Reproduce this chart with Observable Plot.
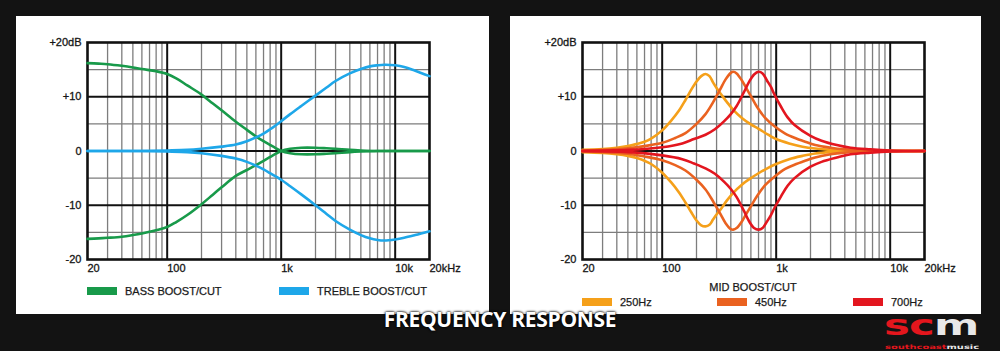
<!DOCTYPE html>
<html>
<head>
<meta charset="utf-8">
<script src="https://cdn.jsdelivr.net/npm/d3@7"></script>
<script src="https://cdn.jsdelivr.net/npm/@observablehq/plot@0.6"></script>
<style>
html, body { margin: 0; padding: 0; background: #131313; width: 1000px; height: 351px; overflow: hidden; }
.panel { position: absolute; top: 16px; height: 298px; background: #fff; }
#left { left: 16px; width: 473px; }
#right { left: 510px; width: 471px; }
.panel svg { position: absolute; left: 0; top: 0; }
.lg { position: absolute; font: 11px "Liberation Sans", Arial, sans-serif; color: #1a1a1a; white-space: nowrap; line-height: 12px; -webkit-text-stroke: 0.25px #1a1a1a; }
.sw { position: absolute; height: 8px; width: 30px; }
#title { position: absolute; left: 0; width: 1000px; top: 309px; text-align: center; font: 700 21px/21px "Open Sans", sans-serif; color: #fff; text-shadow: 0 0 3px #000, 0 0 2px #000; letter-spacing: -0.3px; z-index: 5; }
#logo { position: absolute; left: 884px; top: 312px; width: 97px; height: 39px; }
#logo .big { position: absolute; left: 0; top: 0; font: 700 28px/28px "DejaVu Sans", sans-serif; transform: scaleX(1.55); transform-origin: left top; letter-spacing: -0.5px; white-space: nowrap; }
#logo .small { position: absolute; left: 1px; top: 31.5px; font: 700 6px/6px "DejaVu Sans", sans-serif; white-space: nowrap; transform: scaleX(1.65); transform-origin: left top; }
</style>
</head>
<body>
<div id="left" class="panel"></div>
<div id="right" class="panel"></div>
<div id="title">FREQUENCY RESPONSE</div>
<div id="logo">
  <div class="big"><span style="color:#e4161d">sc</span><span style="color:#e8e8e8">m</span></div>
  <div class="small"><span style="color:#e4161d">southcoast</span><span style="color:#e8e8e8">music</span></div>
</div>
<script>
// ---------- Axis ticks / labels ----------
const xTicks = [20, 100, 1000, 10000, 20000];
const xTickLabels = ["20", "100", "1k", "10k", "20kHz"];
const yTicks = [-20, -10, 0, 10, 20];
const yTickLabels = ["-20", "-10", "0", "+10", "+20dB"];
const majorX = [100, 1000, 10000];
const minorX = [30, 40, 50, 60, 70, 80, 90, 200, 300, 400, 500, 600, 700, 800, 900, 2000, 3000, 4000, 5000, 6000, 7000, 8000, 9000];
const majorY = [-10, 0, 10];
const minorY = [-15, -5, 5, 15];

// ---------- Left chart: bass / treble ----------
const bassFreq = [20, 25, 30, 40, 50, 60, 80, 100, 120, 150, 200, 250, 300, 400, 500, 600, 700, 800, 900, 1000, 1200, 1500, 2000, 2500, 3000, 4000, 5000, 7000, 10000, 20000];
const bassBoost = [16.2, 16.1, 16.0, 15.7, 15.4, 15.1, 14.7, 14.2, 13.4, 12.1, 10.4, 8.8, 7.5, 5.4, 3.9, 2.7, 1.8, 1.1, 0.5, 0.0, -0.4, -0.6, -0.6, -0.5, -0.4, -0.2, -0.1, 0, 0, 0];
const bassCut = [-16.2, -16.1, -16.0, -15.8, -15.5, -15.2, -14.6, -14.0, -13.1, -11.8, -9.8, -8.1, -6.7, -4.6, -3.5, -2.6, -1.8, -1.1, -0.5, 0.0, 0.4, 0.6, 0.6, 0.5, 0.4, 0.2, 0.1, 0, 0, 0];

const trebleFreq = [20, 50, 100, 150, 200, 300, 400, 500, 600, 700, 800, 1000, 1200, 1500, 2000, 2500, 3000, 4000, 5000, 6000, 7000, 8000, 10000, 12000, 15000, 20000];
const trebleBoost = [0, 0, 0.1, 0.2, 0.4, 0.8, 1.2, 1.8, 2.5, 3.2, 4.0, 5.5, 6.8, 8.3, 10.2, 11.7, 12.9, 14.3, 15.1, 15.6, 15.8, 15.9, 15.8, 15.5, 14.8, 13.8];
const trebleCut = [0, 0, -0.1, -0.2, -0.4, -0.9, -1.4, -2.0, -2.7, -3.4, -4.1, -5.3, -6.5, -8.0, -10.0, -11.6, -12.9, -14.5, -15.5, -16.1, -16.4, -16.5, -16.3, -16.0, -15.5, -14.8];

// ---------- Right chart: mid boost/cut ----------
const mid250Freq = [20, 30, 40, 50, 60, 70, 80, 100, 120, 140, 160, 180, 200, 220, 240, 260, 280, 300, 330, 370, 420, 500, 600, 700, 850, 1000, 1300, 1700, 2200, 3000, 5000, 10000, 20000];
const mid250Boost = [0.2, 0.35, 0.6, 0.9, 1.3, 1.7, 2.3, 3.8, 5.6, 7.4, 9.4, 11.3, 12.8, 13.8, 14.2, 13.8, 12.6, 11.6, 10.4, 9.0, 7.6, 6.1, 4.9, 4.1, 3.0, 2.2, 1.4, 0.8, 0.45, 0.2, 0.05, 0, 0];
const mid250Cut = [-0.2, -0.35, -0.6, -0.9, -1.3, -1.8, -2.4, -4.0, -5.8, -7.6, -9.5, -11.3, -12.8, -13.7, -13.9, -13.6, -12.6, -11.7, -10.6, -9.1, -7.7, -6.2, -5.0, -4.1, -3.1, -2.4, -1.5, -0.9, -0.45, -0.2, -0.05, 0, 0];

const mid450Freq = [20, 30, 50, 70, 100, 130, 160, 200, 240, 280, 320, 360, 400, 420, 450, 500, 550, 600, 680, 800, 960, 1200, 1500, 1750, 2200, 3000, 4000, 6000, 10000, 20000];
const mid450Boost = [0.1, 0.2, 0.5, 0.9, 1.5, 2.4, 3.3, 5.0, 6.8, 9.0, 11.2, 13.2, 14.4, 14.6, 14.3, 13.0, 11.5, 10.1, 8.1, 6.1, 4.6, 3.2, 2.3, 1.8, 1.1, 0.6, 0.3, 0.1, 0, 0];
const mid450Cut = [-0.1, -0.2, -0.5, -1.0, -1.7, -2.6, -3.6, -5.3, -7.1, -9.3, -11.4, -13.3, -14.4, -14.5, -14.2, -13.0, -11.5, -10.2, -8.3, -6.3, -4.8, -3.3, -2.4, -1.9, -1.2, -0.6, -0.3, -0.1, 0, 0];

const mid700Freq = [20, 50, 100, 150, 190, 240, 290, 350, 400, 450, 520, 580, 640, 700, 760, 830, 900, 960, 1100, 1260, 1450, 2000, 2500, 3400, 4500, 6700, 10000, 20000];
const mid700Boost = [0.05, 0.2, 0.7, 1.4, 2.2, 3.0, 4.0, 5.5, 6.8, 8.3, 10.8, 12.8, 14.1, 14.6, 14.3, 13.0, 11.8, 10.5, 8.2, 6.2, 4.8, 2.8, 1.9, 1.1, 0.6, 0.3, 0.1, 0];
const mid700Cut = [-0.05, -0.2, -0.8, -1.5, -2.3, -3.2, -4.2, -5.7, -7.0, -8.5, -11.0, -13.0, -14.2, -14.5, -14.2, -13.0, -11.8, -10.6, -8.4, -6.4, -5.0, -2.9, -2.0, -1.2, -0.6, -0.3, -0.1, 0];

// ---------- Legends ----------
const leftNames = ["BASS BOOST/CUT", "TREBLE BOOST/CUT"];
const leftColors = ["#189a4a", "#1ea7e9"];
const rightTitle = "MID BOOST/CUT";
const rightNames = ["250Hz", "450Hz", "700Hz"];
const rightColors = ["#f5a01a", "#ea6220", "#e3161f"];

const xLabel = new Map(xTicks.map((t, i) => [t, xTickLabels[i]]));
const yLabel = new Map(yTicks.map((t, i) => [t, yTickLabels[i]]));

function rows(freq, vals) { return freq.map((f, i) => ({f, v: vals[i]})); }

function chart(width, marginLeft, marginRight, lines) {
  return Plot.plot({
    width, height: 298,
    marginLeft, marginRight, marginTop: 26, marginBottom: 55,
    x: {type: "log", domain: [20, 20000], label: null, axis: null},
    y: {domain: [-20, 20], label: null, axis: null},
    style: {fontFamily: "'Liberation Sans', Arial, sans-serif", fontSize: "11px", color: "#151515", background: "transparent", overflow: "visible"},
    marks: [
      Plot.ruleX(minorX, {stroke: "#7d7d7d", strokeWidth: 1.3}),
      Plot.ruleY(minorY, {stroke: "#7d7d7d", strokeWidth: 1.3}),
      Plot.ruleX(majorX, {stroke: "#111", strokeWidth: 2}),
      Plot.ruleY(majorY, {stroke: "#111", strokeWidth: 2}),
      Plot.frame({stroke: "#111", strokeWidth: 2.6}),
      ...lines.map(([data, color]) => Plot.line(data, {x: "f", y: "v", stroke: color, strokeWidth: 2.6, curve: "catmull-rom"})),
      Plot.text(xTicks, {x: d => d, text: d => xLabel.get(d), frameAnchor: "bottom", textAnchor: "start", lineAnchor: "middle", dy: 9, fill: "#151515", stroke: "#151515", strokeWidth: 0.3}),
      Plot.text(yTicks, {y: d => d, text: d => yLabel.get(d), frameAnchor: "left", textAnchor: "end", lineAnchor: "middle", dx: -6, fill: "#151515", stroke: "#151515", strokeWidth: 0.3})
    ]
  });
}

const leftPanel = document.getElementById("left");
leftPanel.appendChild(chart(473, 71, 60, [
  [rows(bassFreq, bassBoost), leftColors[0]],
  [rows(bassFreq, bassCut), leftColors[0]],
  [rows(trebleFreq, trebleBoost), leftColors[1]],
  [rows(trebleFreq, trebleCut), leftColors[1]]
]));

const rightPanel = document.getElementById("right");
rightPanel.appendChild(chart(471, 72, 57, [
  [rows(mid250Freq, mid250Boost), rightColors[0]],
  [rows(mid250Freq, mid250Cut), rightColors[0]],
  [rows(mid450Freq, mid450Boost), rightColors[1]],
  [rows(mid450Freq, mid450Cut), rightColors[1]],
  [rows(mid700Freq, mid700Boost), rightColors[2]],
  [rows(mid700Freq, mid700Cut), rightColors[2]]
]));

function legendItem(panel, name, color, x, y) {
  const sw = document.createElement("div");
  sw.className = "sw";
  sw.style.left = x + "px"; sw.style.top = (y - 4) + "px"; sw.style.background = color;
  panel.appendChild(sw);
  const t = document.createElement("div");
  t.className = "lg";
  t.style.left = (x + 38) + "px"; t.style.top = (y - 6) + "px";
  t.textContent = name;
  panel.appendChild(t);
}
const leftX = [71, 263];
leftNames.forEach((n, i) => legendItem(leftPanel, n, leftColors[i], leftX[i], 275));
const rightX = [72, 207, 343];
rightNames.forEach((n, i) => legendItem(rightPanel, n, rightColors[i], rightX[i], 286));
const mt = document.createElement("div");
mt.className = "lg";
mt.style.left = "0px"; mt.style.width = "486px"; mt.style.textAlign = "center"; mt.style.top = "265px";
mt.textContent = rightTitle;
rightPanel.appendChild(mt);
</script>
</body>
</html>
